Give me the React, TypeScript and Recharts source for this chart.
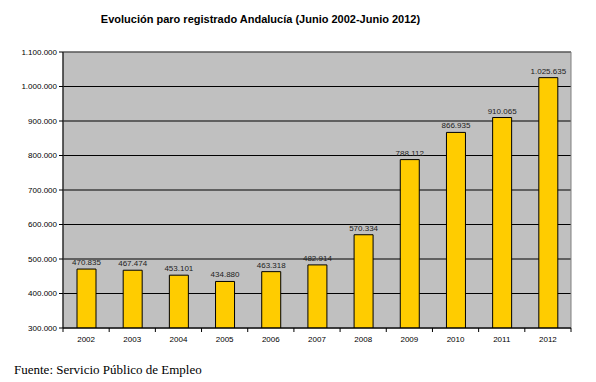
import React from "react";
import { BarChart, Bar, XAxis, YAxis, CartesianGrid, LabelList, ReferenceArea } from "recharts";

const years = ["2002", "2003", "2004", "2005", "2006", "2007", "2008", "2009", "2010", "2011", "2012"];
const paro = [470835, 467474, 453101, 434880, 463318, 482914, 570334, 788112, 866935, 910065, 1025635];
const yTicks = [300000, 400000, 500000, 600000, 700000, 800000, 900000, 1000000, 1100000];

const data = years.map((y, i) => ({ year: y, v: paro[i] }));

const fmt = (n: number) => {
  const s = String(Math.round(n));
  return s.replace(/\B(?=(\d{3})+(?!\d))/g, ".");
};

const W = 596;
const H = 382;
const M = { top: 52, right: 25, bottom: 24, left: 3 };
const Y_W = 60;
const plotW = W - M.left - M.right - Y_W;
const step = plotW / years.length;

const XTick = (props: any) => {
  const { x, y, payload, index } = props;
  const base = y - 8;
  return (
    <g>
      <line x1={x - step / 2} x2={x - step / 2} y1={base} y2={base + 4} stroke="#000" />
      {index === years.length - 1 && (
        <line x1={x + step / 2} x2={x + step / 2} y1={base} y2={base + 4} stroke="#000" />
      )}
      <text x={x} y={base + 14} textAnchor="middle" fontSize={8} fontFamily="Liberation Sans, Arial, sans-serif" fill="#000">
        {payload.value}
      </text>
    </g>
  );
};

export default function App() {
  return (
    <div style={{ position: "absolute", left: 0, top: 0, width: W, height: H, background: "#fff" }}>
      <div
        style={{
          position: "absolute",
          left: 0,
          top: 13,
          width: 521,
          textAlign: "center",
          fontFamily: "Liberation Sans, Arial, sans-serif",
          fontWeight: "bold",
          fontSize: 11,
          color: "#000",
        }}
      >
        Evolución paro registrado Andalucía (Junio 2002-Junio 2012)
      </div>
      <BarChart width={W} height={H} data={data} margin={M} barSize={19}>
        <CartesianGrid vertical={false} fill="#C0C0C0" stroke="#000" horizontalValues={yTicks} />
        <ReferenceArea y1={300000} y2={1100000} fill="none" stroke="#808080" strokeWidth={1} />
        <XAxis
          dataKey="year"
          axisLine={{ stroke: "#000" }}
          tickLine={false}
          tick={<XTick />}
          interval={0}
          height={30}
          tickSize={6}
          tickMargin={2}
        />
        <YAxis
          width={Y_W}
          domain={[300000, 1100000]}
          ticks={yTicks}
          interval={0}
          allowDataOverflow
          tickFormatter={fmt}
          axisLine={{ stroke: "#000" }}
          tickLine={{ stroke: "#000" }}
          tickSize={4}
          tickMargin={2}
          tick={{ fontSize: 8, fill: "#000", fontFamily: "Liberation Sans, Arial, sans-serif" }}
        />
        <Bar dataKey="v" fill="#FFCC00" stroke="#000" strokeWidth={1} isAnimationActive={false}>
          <LabelList
            dataKey="v"
            position="top"
            offset={4}
            formatter={(v: any) => fmt(Number(v))}
            fontSize={8}
            fill="#222"
            fontFamily="Liberation Sans, Arial, sans-serif"
          />
        </Bar>
      </BarChart>
      <div
        style={{
          position: "absolute",
          left: 14,
          top: 362,
          fontFamily: "Liberation Serif, Times New Roman, serif",
          fontSize: 13,
          color: "#000",
          whiteSpace: "nowrap",
        }}
      >
        Fuente: Servicio Público de Empleo
      </div>
    </div>
  );
}
